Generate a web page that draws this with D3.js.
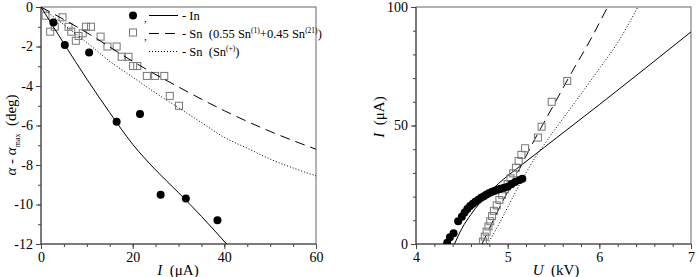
<!DOCTYPE html>
<html><head><meta charset="utf-8">
<script src="https://cdn.jsdelivr.net/npm/d3@7"></script>
<style>
body{margin:0;background:#fff;}
svg text{font-family:"Liberation Serif","Times New Roman","DejaVu Serif",serif !important;}
</style></head>
<body><svg id="c" width="696" height="277"></svg>
<script>
// ---------- Left panel data: alpha - alpha_max vs I ----------
const inPtsI     = [2.7, 5.2, 10.5, 16.5, 21.6, 26.1, 31.6, 38.5];
const inPtsA     = [-0.78, -1.92, -2.31, -5.81, -5.42, -9.50, -9.70, -10.80];
const snPtsI     = [1.0, 2.0, 3.0, 4.7, 6.0, 6.6, 7.6, 8.2, 9.1, 9.8, 10.9, 13.0, 14.5, 16.5, 17.6, 19.1, 20.1, 21.0, 23.1, 24.9, 26.9, 28.1, 30.1];
const snPtsA     = [-0.44, -1.25, -1.0, -0.52, -1.0, -1.25, -1.71, -1.47, -1.33, -1.0, -1.0, -1.5, -2.0, -2.0, -2.52, -2.52, -2.99, -2.99, -3.49, -3.49, -3.49, -4.5, -5.0];
const inFitI     = [0, 5, 10, 15, 20, 25, 30, 35, 40.5];
const inFitA     = [0, -1.85, -3.65, -5.35, -6.95, -8.25, -9.4, -10.6, -12];
const snMixFitI  = [0, 10, 20, 30, 40, 50, 60];
const snMixFitA  = [0, -1.3, -2.75, -4.05, -5.25, -6.3, -7.2];
const snPlusFitI = [0, 5, 10, 15, 20, 25, 30, 35, 40, 45, 50, 55, 60];
const snPlusFitA = [0, -0.9, -1.8, -2.75, -3.55, -4.35, -5.1, -5.85, -6.6, -7.15, -7.7, -8.15, -8.55];
const leftXTicks = [0, 20, 40, 60];
const leftYTicks = [0, -2, -4, -6, -8, -10, -12];

// ---------- Right panel data: I vs U ----------
const inU  = [4.34, 4.37, 4.41, 4.46, 4.50, 4.53, 4.56, 4.59, 4.62, 4.65, 4.68, 4.71, 4.74, 4.77, 4.80, 4.83, 4.86, 4.89, 4.92, 4.96, 5.00, 5.04, 5.08, 5.13, 5.16];
const inI  = [0.5, 2.8, 4.5, 9.6, 11.5, 13.3, 14.8, 16.0, 17.0, 17.9, 18.7, 19.5, 20.2, 20.9, 21.5, 22.0, 22.5, 22.9, 23.3, 23.7, 24.2, 25.2, 26.2, 27.0, 27.5];
const snU  = [4.73, 4.75, 4.77, 4.79, 4.81, 4.83, 4.85, 4.88, 4.91, 4.94, 4.97, 5.00, 5.03, 5.06, 5.09, 5.12, 5.15, 5.19, 5.33, 5.37, 5.48, 5.65];
const snI  = [1.0, 3.1, 5.2, 7.4, 9.6, 11.8, 14.0, 16.3, 18.6, 20.8, 23.1, 25.3, 27.7, 29.8, 32.2, 35.0, 37.6, 40.4, 44.9, 49.5, 60.0, 68.8];
const inFitU     = [4.42, 4.5, 4.6, 4.7, 4.8, 4.9, 5.0, 5.1, 5.2, 5.4, 6.0, 7.0];
const inFitIv    = [0, 6.5, 12.5, 17.5, 21.8, 25.5, 28.8, 31.8, 34.8, 40.8, 58.8, 89.5];
const snMixFitU  = [4.72, 4.9, 5.1, 5.3, 5.5, 5.7, 5.9, 6.09];
const snMixFitIv = [0, 14.5, 29.5, 44.5, 58.5, 72.5, 86, 100];
const snPlusFitU = [4.78, 4.9, 5.0, 5.1, 5.2, 5.3, 5.4, 5.5, 5.7, 6.0, 6.2, 6.42];
const snPlusFitIv= [0, 8, 15.5, 23, 30, 36.5, 42, 47.5, 58, 74, 85, 100];
const rightXTicks = [4, 5, 6, 7];
const rightYTicks = [0, 50, 100];

const svg = d3.select("#c");
const axisCol = "#444", frameCol = "#666", sqCol = "#777";
const dashed = "10,6", dotted = "1,2";
const NB = "\u00a0";

function panel(opt){
  const {x, y, xMajor, xMinor, yMajor, yMinor, id} = opt;
  const g = svg.append("g");
  const [x0,x1] = x.range(), [y0,y1] = y.range();
  g.append("rect").attr("x",x0).attr("y",y1).attr("width",x1-x0).attr("height",y0-y1)
    .attr("fill","none").attr("stroke",frameCol).attr("stroke-width",1);
  const bx = g.append("g").attr("transform",`translate(0,${y0})`)
    .call(d3.axisBottom(x).tickValues(xMinor).tickSize(3).tickFormat(""));
  bx.select(".domain").remove();
  bx.selectAll("line").attr("stroke",axisCol);
  const bX = g.append("g").attr("transform",`translate(0,${y0})`)
    .call(d3.axisBottom(x).tickValues(xMajor).tickSize(5).tickPadding(3).tickFormat(opt.xFmt));
  bX.select(".domain").attr("stroke",axisCol).attr("d",`M${x0},0H${x1}`);
  bX.selectAll("line").attr("stroke",axisCol);
  bX.selectAll("text").attr("font-size",14).attr("fill","#000");
  const ly = g.append("g").attr("transform",`translate(${x0},0)`)
    .call(d3.axisLeft(y).tickValues(yMinor).tickSize(3).tickFormat(""));
  ly.select(".domain").remove();
  ly.selectAll("line").attr("stroke",axisCol);
  const lY = g.append("g").attr("transform",`translate(${x0},0)`)
    .call(d3.axisLeft(y).tickValues(yMajor).tickSize(5).tickPadding(3).tickFormat(opt.yFmt));
  lY.select(".domain").attr("stroke",axisCol).attr("d",`M0,${y0}V${y1}`);
  lY.selectAll("line").attr("stroke",axisCol);
  lY.selectAll("text").attr("font-size",14).attr("fill","#000");
  svg.append("clipPath").attr("id",id).append("rect")
    .attr("x",x0).attr("y",y1).attr("width",x1-x0).attr("height",y0-y1);
  return g.append("g").attr("clip-path",`url(#${id})`);
}

function drawLine(g, xs, ys, x, y, dash){
  const line = d3.line().x(d=>x(d[0])).y(d=>y(d[1])).curve(d3.curveMonotoneX);
  g.append("path").datum(xs.map((v,i)=>[v,ys[i]])).attr("d",line)
    .attr("fill","none").attr("stroke","#000").attr("stroke-width",1)
    .attr("stroke-dasharray",dash||null);
}
function drawSquares(g, xs, ys, x, y){
  g.selectAll(null).data(xs.map((v,i)=>[v,ys[i]])).join("rect")
    .attr("x",d=>x(d[0])-3.5).attr("y",d=>y(d[1])-3.5).attr("width",7).attr("height",7)
    .attr("fill","none").attr("stroke",sqCol).attr("stroke-width",1);
}
function drawCircles(g, xs, ys, x, y){
  g.selectAll(null).data(xs.map((v,i)=>[v,ys[i]])).join("circle")
    .attr("cx",d=>x(d[0])).attr("cy",d=>y(d[1])).attr("r",4).attr("fill","#000");
}

// ---------- Left panel ----------
const xL = d3.scaleLinear().domain([0,60]).range([41,316]);
const yL = d3.scaleLinear().domain([-12,0]).range([244,7]);
const gL = panel({x:xL, y:yL, id:"clipL",
  xMajor:leftXTicks, xMinor:d3.range(0,61,5),
  yMajor:leftYTicks, yMinor:d3.range(-12,0.1,1),
  xFmt:d3.format("d"), yFmt:d=>String(d)});
drawSquares(gL, snPtsI, snPtsA, xL, yL);
drawLine(gL, snMixFitI, snMixFitA, xL, yL, dashed);
drawLine(gL, snPlusFitI, snPlusFitA, xL, yL, dotted);
drawLine(gL, inFitI, inFitA, xL, yL);
drawCircles(gL, inPtsI, inPtsA, xL, yL);

// legend
const leg = svg.append("g").attr("font-size",12.5).attr("fill","#000");
const legRows = [15.5, 33.5, 51.5];
leg.append("circle").attr("cx",133).attr("cy",legRows[0]).attr("r",4).attr("fill","#000");
leg.append("rect").attr("x",129.5).attr("y",legRows[1]-4.5).attr("width",7).attr("height",7).attr("fill","none").attr("stroke",sqCol);
[0,1].forEach(i=>leg.append("text").attr("x",144).attr("y",legRows[i]+6).attr("font-size",11).text(","));
[[null,0],[dashed,1],[dotted,2]].forEach(([d,i])=>{
  leg.append("line").attr("x1",149).attr("x2",178).attr("y1",legRows[i]).attr("y2",legRows[i])
    .attr("stroke","#000").attr("stroke-width",1).attr("stroke-dasharray",d);
});
leg.append("text").attr("x",182).attr("y",legRows[0]+4).text("- In");
const t2 = leg.append("text").attr("x",182).attr("y",legRows[1]+4);
t2.append("tspan").text("- Sn"+NB+NB+"(0.55 Sn");
t2.append("tspan").attr("font-size",7.5).attr("dy",-5).text("(1)");
t2.append("tspan").attr("dy",5).text("+0.45 Sn");
t2.append("tspan").attr("font-size",7.5).attr("dy",-5).text("(21)");
t2.append("tspan").attr("dy",5).text(")");
const t3 = leg.append("text").attr("x",182).attr("y",legRows[2]+4);
t3.append("tspan").text("- Sn"+NB+NB+"(Sn");
t3.append("tspan").attr("font-size",7.5).attr("dy",-5).text("(+)");
t3.append("tspan").attr("dy",5).text(")");

// axis titles left
const xtL = svg.append("text").attr("x",178).attr("y",275).attr("text-anchor","middle").attr("font-size",15);
xtL.append("tspan").attr("font-style","italic").text("I");
xtL.append("tspan").text(NB+NB+"(μA)");
const ytL = svg.append("text").attr("transform","translate(16,135) rotate(-90)").attr("text-anchor","middle").attr("font-size",15);
ytL.append("tspan").attr("font-style","italic").text("α");
ytL.append("tspan").text(NB+"-"+NB);
ytL.append("tspan").attr("font-style","italic").text("α");
ytL.append("tspan").attr("font-size",8).attr("dy",4).text("max");
ytL.append("tspan").attr("dy",-4).text(NB+NB+"(deg)");

// ---------- Right panel ----------
const xR = d3.scaleLinear().domain([4,7]).range([416,691]);
const yR = d3.scaleLinear().domain([0,100]).range([244,7]);
const gR = panel({x:xR, y:yR, id:"clipR",
  xMajor:rightXTicks, xMinor:d3.range(4,7.01,0.2),
  yMajor:rightYTicks, yMinor:d3.range(0,100.1,10),
  xFmt:d3.format("d"), yFmt:d3.format("d")});
drawLine(gR, snPlusFitU, snPlusFitIv, xR, yR, dotted);
drawLine(gR, snMixFitU, snMixFitIv, xR, yR, dashed);
drawLine(gR, inFitU, inFitIv, xR, yR);
drawSquares(gR, snU, snI, xR, yR);
drawCircles(gR, inU, inI, xR, yR);

const xtR = svg.append("text").attr("x",556).attr("y",275).attr("text-anchor","middle").attr("font-size",15);
xtR.append("tspan").attr("font-style","italic").text("U");
xtR.append("tspan").text(NB+NB+"(kV)");
const ytR = svg.append("text").attr("transform","translate(384,117) rotate(-90)").attr("text-anchor","middle").attr("font-size",15);
ytR.append("tspan").attr("font-style","italic").text("I");
ytR.append("tspan").text(NB+NB+"(μA)");
</script></body></html>
